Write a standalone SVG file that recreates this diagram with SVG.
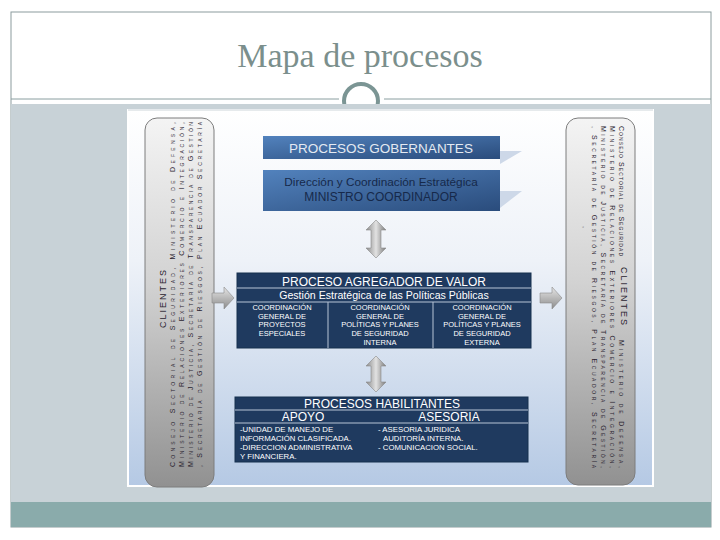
<svg xmlns="http://www.w3.org/2000/svg" width="720" height="540" viewBox="0 0 720 540">
<defs>
<linearGradient id="panel" x1="0" y1="0" x2="0" y2="1">
<stop offset="0" stop-color="#ffffff"/>
<stop offset="0.4" stop-color="#eef2f8"/>
<stop offset="1" stop-color="#b5c9e4"/>
</linearGradient>
<linearGradient id="client" x1="0" y1="0" x2="0" y2="1">
<stop offset="0" stop-color="#f4f4f4"/>
<stop offset="0.45" stop-color="#d2d2d2"/>
<stop offset="1" stop-color="#919191"/>
</linearGradient>
<linearGradient id="gob" x1="0" y1="0" x2="1" y2="1">
<stop offset="0" stop-color="#5282bd"/>
<stop offset="1" stop-color="#2a4c7c"/>
</linearGradient>
<linearGradient id="arr" x1="0" y1="0" x2="1" y2="0">
<stop offset="0" stop-color="#8a8a8a"/>
<stop offset="0.5" stop-color="#e2e2e2"/>
<stop offset="1" stop-color="#7a7a7a"/>
</linearGradient>
<linearGradient id="arrh" x1="0" y1="0" x2="0" y2="1">
<stop offset="0" stop-color="#e6e6e6"/>
<stop offset="1" stop-color="#8c8c8c"/>
</linearGradient>
</defs>
<style>
.sans{font-family:"Liberation Sans",Arial,sans-serif}
.cl{font-family:"Liberation Sans",Arial,sans-serif;font-size:7px;font-variant:small-caps;fill:#2a2430}
.clt{font-family:"Liberation Sans",Arial,sans-serif;font-size:9px;fill:#2a2430;letter-spacing:2px}
.wt{fill:#ffffff}
.cell{font-family:"Liberation Sans",Arial,sans-serif;font-size:7.5px;fill:#ffffff;text-anchor:middle}
.body{font-family:"Liberation Sans",Arial,sans-serif;font-size:7.8px;fill:#ffffff}
.sep{stroke:#b8c4d6;stroke-width:1;fill:none}
.cbox{fill:url(#client);stroke:#7d7d7d;stroke-width:1}
.ar{fill:url(#arr);stroke:#8a8a8a;stroke-width:0.6}
.arh{fill:url(#arrh);stroke:#8a8a8a;stroke-width:0.6}
</style>
<rect x="0" y="0" width="720" height="540" fill="#ffffff"/>
<rect x="11" y="12" width="700" height="515" fill="#ffffff" stroke="#8c9c9e" stroke-width="1"/>
<g id="title">
<text x="360" y="67" text-anchor="middle" font-family="'Liberation Serif','Times New Roman',serif" font-size="34" fill="#7b8f8c">Mapa de procesos</text>
</g>
<g id="header-rule">
<line x1="11" y1="99" x2="339" y2="99" stroke="#8a9ea0" stroke-width="1"/>
<line x1="384" y1="99" x2="711" y2="99" stroke="#8a9ea0" stroke-width="1"/>
<circle cx="361" cy="101" r="17" fill="none" stroke="#7b9594" stroke-width="4"/>
</g>
<rect x="11" y="104" width="700" height="398" fill="#c8d2d7"/>
<rect x="11" y="502" width="700" height="25" fill="#8aabab"/>
<rect x="128" y="110" width="525" height="376" fill="url(#panel)" stroke="#ffffff" stroke-width="2"/>
<line x1="128" y1="110" x2="653" y2="110" stroke="#cdd5da" stroke-width="1"/>

<g id="clientes-left">
<rect class="cbox" x="145" y="118" width="69" height="369" rx="12"/>
<text class="clt" transform="translate(166,298) rotate(-90)" text-anchor="middle">CLIENTES</text>
<text class="cl" transform="translate(175,467) rotate(-90)" textLength="345" lengthAdjust="spacing">Consejo Sectorial de Seguridad, Ministerio de Defensa,</text>
<text class="cl" transform="translate(184,467) rotate(-90)" textLength="345" lengthAdjust="spacing">Ministerio de Relaciones Exteriores Comercio e Integración,</text>
<text class="cl" transform="translate(193,467) rotate(-90)" textLength="345" lengthAdjust="spacing">Ministerio de Justicia, Secretaría de Transparencia de Gestión</text>
<text class="cl" transform="translate(202,467) rotate(-90)" textLength="345" lengthAdjust="spacing">, Secretaría de Gestión de Riesgos, Plan Ecuador Secretaría</text>
</g>

<g id="clientes-right">
<rect class="cbox" x="566" y="118" width="69" height="367" rx="12"/>
<text class="clt" transform="translate(621,297) rotate(90)" text-anchor="middle">CLIENTES</text>
<text class="cl" transform="translate(619,126) rotate(90)" textLength="130" lengthAdjust="spacing">Consejo Sectorial de Seguridad</text>
<text class="cl" transform="translate(619,340) rotate(90)" textLength="128" lengthAdjust="spacing">Ministerio de Defensa,</text>
<text class="cl" transform="translate(610,126) rotate(90)" textLength="342" lengthAdjust="spacing">Ministerio de Relaciones Exteriores Comercio e Integración,</text>
<text class="cl" transform="translate(601,126) rotate(90)" textLength="342" lengthAdjust="spacing">Ministerio de Justicia, Secretaría de Transparencia de Gestión,</text>
<text class="cl" transform="translate(592,126) rotate(90)" textLength="342" lengthAdjust="spacing">, Secretaría de Gestión de Riesgos, Plan Ecuador, Secretaría</text>
<text class="cl" transform="translate(583,226) rotate(90)">,</text>
</g>

<g id="procesos-gobernantes">
<polygon points="500,151 522,151 500,164" fill="#cdd8e8"/>
<rect x="263" y="136" width="237" height="23" fill="url(#gob)"/>
<text class="sans" x="381" y="153" text-anchor="middle" font-size="13.5" fill="#e4eaf2">PROCESOS GOBERNANTES</text>
</g>

<g id="direccion-coordinacion">
<polygon points="500,191 522,191 500,208" fill="#cdd8e8"/>
<rect x="263" y="170" width="237" height="41" fill="url(#gob)"/>
<text class="sans" x="381" y="186" text-anchor="middle" font-size="11.8" fill="#16294a">Dirección y Coordinación Estratégica</text>
<text class="sans" x="381" y="201" text-anchor="middle" font-size="12" fill="#16294a">MINISTRO COORDINADOR</text>
</g>

<g id="proceso-agregador">
<rect x="237" y="273" width="294" height="75" fill="#1f3a5f" stroke="#17304f" stroke-width="1"/>
<line class="sep" x1="237" y1="288" x2="531" y2="288"/>
<line class="sep" x1="237" y1="302" x2="531" y2="302"/>
<line class="sep" x1="328" y1="302" x2="328" y2="348"/>
<line class="sep" x1="433" y1="302" x2="433" y2="348"/>
<text class="sans wt" x="384" y="286" text-anchor="middle" font-size="12">PROCESO AGREGADOR DE VALOR</text>
<text class="sans wt" x="384" y="299" text-anchor="middle" font-size="10.6">Gestión Estratégica de las Políticas Públicas</text>
<text class="cell" x="282" y="310">COORDINACIÓN</text>
<text class="cell" x="282" y="319">GENERAL DE</text>
<text class="cell" x="282" y="327">PROYECTOS</text>
<text class="cell" x="282" y="336">ESPECIALES</text>
<text class="cell" x="380" y="310">COORDINACIÓN</text>
<text class="cell" x="380" y="319">GENERAL DE</text>
<text class="cell" x="380" y="327">POLÍTICAS Y PLANES</text>
<text class="cell" x="380" y="336">DE SEGURIDAD</text>
<text class="cell" x="380" y="345">INTERNA</text>
<text class="cell" x="482" y="310">COORDINACIÓN</text>
<text class="cell" x="482" y="319">GENERAL DE</text>
<text class="cell" x="482" y="327">POLÍTICAS Y PLANES</text>
<text class="cell" x="482" y="336">DE SEGURIDAD</text>
<text class="cell" x="482" y="345">EXTERNA</text>
</g>

<g id="procesos-habilitantes">
<rect x="235" y="397" width="293" height="65" fill="#1f3a5f" stroke="#17304f" stroke-width="1"/>
<line class="sep" x1="235" y1="410" x2="528" y2="410"/>
<line class="sep" x1="235" y1="423" x2="528" y2="423"/>
<text class="sans wt" x="382" y="408" text-anchor="middle" font-size="12">PROCESOS HABILITANTES</text>
<text class="sans wt" x="303" y="421" text-anchor="middle" font-size="12">APOYO</text>
<text class="sans wt" x="449" y="421" text-anchor="middle" font-size="12">ASESORIA</text>
<text class="body" x="240" y="432">-UNIDAD DE MANEJO DE</text>
<text class="body" x="240" y="441">INFORMACIÓN CLASIFICADA.</text>
<text class="body" x="240" y="450">-DIRECCION ADMINISTRATIVA</text>
<text class="body" x="240" y="459">Y FINANCIERA.</text>
<text class="body" x="378" y="432">- ASESORIA JURIDICA</text>
<text class="body" x="383" y="441">AUDITORÍA INTERNA.</text>
<text class="body" x="378" y="450">- COMUNICACION SOCIAL.</text>
</g>

<g id="connectors">
<path class="ar" d="M376,220 L386,230 L381,230 L381,248 L386,248 L376,258 L366,248 L371,248 L371,230 L366,230 Z"/>
<path class="ar" d="M376,356 L386,366 L381,366 L381,382 L386,382 L376,392 L366,382 L371,382 L371,366 L366,366 Z"/>
<path class="arh" d="M212,293 L224,293 L224,287 L234,298 L224,309 L224,303 L212,303 Z"/>
<path class="arh" d="M540,293 L552,293 L552,287 L562,298 L552,309 L552,303 L540,303 Z"/>
</g>
</svg>
